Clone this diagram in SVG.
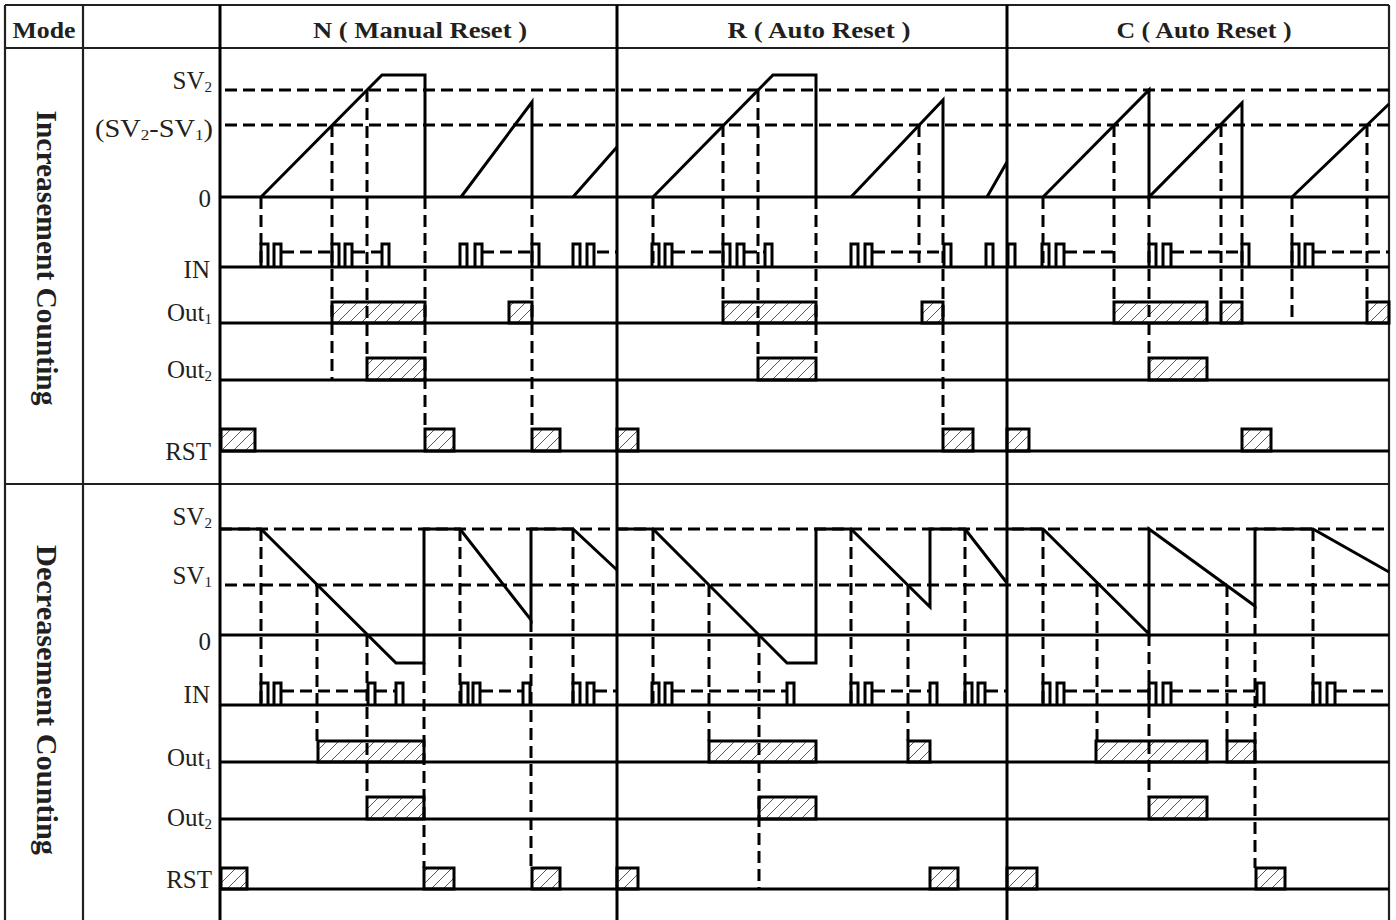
<svg xmlns="http://www.w3.org/2000/svg" width="1396" height="920" viewBox="0 0 1396 920">
<defs>
<pattern id="hatch" patternUnits="userSpaceOnUse" width="12" height="12">
<path d="M-3,3 L3,-3 M0,12 L12,0 M9,15 L15,9" stroke="#555" stroke-width="1"/>
</pattern>
<style>
.frame{stroke:#231f20;stroke-width:2.2;fill:none}
.col{stroke:#000;stroke-width:3;fill:none}
.line{stroke:#000;stroke-width:3;fill:none}
.sig{stroke:#000;stroke-width:3;fill:none}
.dash{stroke:#000;stroke-width:3;fill:none;stroke-dasharray:12 6}
.box{stroke:#000;stroke-width:3;fill:url(#hatch)}
.lbl{font-family:'Liberation Serif','Times New Roman',serif;font-size:25px;fill:#231f20;text-anchor:end}
.sub{font-size:15px}
.hdr{font-family:'Liberation Serif','Times New Roman',serif;font-size:24px;font-weight:bold;fill:#231f20;text-anchor:middle}
.vt{font-family:'Liberation Serif','Times New Roman',serif;font-size:30px;font-weight:bold;fill:#231f20;text-anchor:middle}
</style>
</defs>
<rect x="0" y="0" width="1396" height="920" fill="#fff"/>

<g id="frame">
<path class="frame" d="M5,5 H1389 M5,48 H1389 M5,484 H1389 M5,5 V920 M83,5 V920 M1389,5 V920"/>
<path class="col" d="M220,5 V920 M617,5 V920 M1007,5 V920"/>
</g>

<g id="header">
<text class="hdr" x="44" y="38" textLength="63" lengthAdjust="spacingAndGlyphs">Mode</text>
<text class="hdr" x="420" y="38" textLength="214" lengthAdjust="spacingAndGlyphs">N ( Manual Reset )</text>
<text class="hdr" x="819" y="38" textLength="183" lengthAdjust="spacingAndGlyphs">R ( Auto Reset )</text>
<text class="hdr" x="1204" y="38" textLength="175" lengthAdjust="spacingAndGlyphs">C ( Auto Reset )</text>
<text class="vt" transform="translate(37,258) rotate(90)" textLength="295" lengthAdjust="spacingAndGlyphs">Increasement Counting</text>
<text class="vt" transform="translate(37,700) rotate(90)" textLength="310" lengthAdjust="spacingAndGlyphs">Decreasement Counting</text>
</g>

<g id="labels">
<text class="lbl" x="212" y="89">SV<tspan class="sub" dy="3">2</tspan></text>
<text class="lbl" x="213" y="137" textLength="118" lengthAdjust="spacingAndGlyphs">(SV<tspan class="sub" dy="3">2</tspan><tspan dy="-3">-SV</tspan><tspan class="sub" dy="3">1</tspan><tspan dy="-3">)</tspan></text>
<text class="lbl" x="211" y="207">0</text>
<text class="lbl" x="210" y="278">IN</text>
<text class="lbl" x="212" y="321">Out<tspan class="sub" dy="3">1</tspan></text>
<text class="lbl" x="212" y="378">Out<tspan class="sub" dy="3">2</tspan></text>
<text class="lbl" x="211" y="460">RST</text>
<text class="lbl" x="212" y="525">SV<tspan class="sub" dy="3">2</tspan></text>
<text class="lbl" x="212" y="584">SV<tspan class="sub" dy="3">1</tspan></text>
<text class="lbl" x="211" y="650">0</text>
<text class="lbl" x="210" y="703">IN</text>
<text class="lbl" x="212" y="766">Out<tspan class="sub" dy="3">1</tspan></text>
<text class="lbl" x="212" y="826">Out<tspan class="sub" dy="3">2</tspan></text>
<text class="lbl" x="212" y="888">RST</text>
</g>

<g id="outputs">
<rect class="box" x="332" y="302" width="93" height="21"/>
<rect class="box" x="509" y="302" width="23" height="21"/>
<rect class="box" x="723" y="302" width="93" height="21"/>
<rect class="box" x="922" y="302" width="21" height="21"/>
<rect class="box" x="1114" y="302" width="93" height="21"/>
<rect class="box" x="1221" y="302" width="21" height="21"/>
<rect class="box" x="1367" y="302" width="22" height="21"/>
<rect class="box" x="367" y="358" width="58" height="22"/>
<rect class="box" x="758" y="358" width="58" height="22"/>
<rect class="box" x="1149" y="358" width="58" height="22"/>
<rect class="box" x="221" y="429" width="34" height="22"/>
<rect class="box" x="425" y="429" width="29" height="22"/>
<rect class="box" x="532" y="429" width="28" height="22"/>
<rect class="box" x="617" y="429" width="21" height="22"/>
<rect class="box" x="943" y="429" width="30" height="22"/>
<rect class="box" x="1007" y="429" width="22" height="22"/>
<rect class="box" x="1242" y="429" width="29" height="22"/>

<rect class="box" x="318" y="741" width="106" height="21"/>
<rect class="box" x="709" y="741" width="107" height="21"/>
<rect class="box" x="908" y="741" width="22" height="21"/>
<rect class="box" x="1096" y="741" width="111" height="21"/>
<rect class="box" x="1227" y="741" width="28" height="21"/>
<rect class="box" x="367" y="797" width="57" height="22"/>
<rect class="box" x="759" y="797" width="57" height="22"/>
<rect class="box" x="1149" y="797" width="58" height="22"/>
<rect class="box" x="221" y="868" width="26" height="21"/>
<rect class="box" x="424" y="868" width="30" height="21"/>
<rect class="box" x="532" y="868" width="28" height="21"/>
<rect class="box" x="617" y="868" width="21" height="21"/>
<rect class="box" x="930" y="868" width="28" height="21"/>
<rect class="box" x="1007" y="868" width="30" height="21"/>
<rect class="box" x="1256" y="868" width="29" height="21"/>
</g>

<g id="baselines">
<path class="line" d="M220,197 H1389 M220,267 H1389 M220,323 H1389 M220,380 H1389 M220,451 H1389"/>
<path class="line" d="M220,635 H1389 M220,705 H1389 M220,762 H1389 M220,819 H1389 M220,889 H1389"/>
<path class="dash" d="M225,90 H1389 M225,125 H1389"/>
<path class="dash" d="M220,529 H1389 M225,585 H1389"/>
</g>

<g id="connectors">
<path class="dash" d="M261,197 V267 M332,125 V380 M367,90 V358 M425,197 V429 M532,197 V429"/>
<path class="dash" d="M653,197 V267 M723,125 V302 M758,90 V358 M816,197 V358 M919,125 V267 M943,197 V429"/>
<path class="dash" d="M1043,197 V267 M1114,125 V302 M1149,197 V358 M1221,125 V302 M1242,197 V302 M1292,197 V323 M1367,125 V302"/>
<path class="dash" d="M261,529 V705 M317,585 V741 M367,635 V797 M424,663 V868 M460,529 V705 M531,620 V868 M573,529 V705"/>
<path class="dash" d="M653,529 V705 M709,585 V741 M759,635 V889 M851,529 V705 M908,585 V741 M965,529 V705"/>
<path class="dash" d="M1043,529 V705 M1097,585 V741 M1149,634 V797 M1227,585 V741 M1255,606 V868 M1313,529 V705"/>
<path class="dash" d="M282,252 H332 M353,252 H382 M482,252 H532 M597,252 H617 M673,252 H723 M745,252 H765 M873,252 H944 M1065,252 H1114 M1172,252 H1242 M1314,252 H1389"/>
<path class="dash" d="M282,691 H368 M375,691 H396 M481,691 H523 M595,691 H617 M673,691 H787 M873,691 H930 M986,691 H1007 M1065,691 H1149 M1171,691 H1257 M1335,691 H1389"/>
</g>

<g id="counter-increase">
<path class="sig" d="M261,197 L382,75 H425 V197 M461,197 L532,102 V197 M573,197 L617,147"/>
<path class="sig" d="M653,197 L773,75 H816 V197 M851,197 L943,100 V197 M987,197 L1007,162"/>
<path class="sig" d="M1043,197 L1149,90 V197 L1242,103 V197 M1292,197 L1389,104"/>
</g>

<g id="counter-decrease">
<path class="sig" d="M220,529 H261 L396,663 H424 V529 H460 L531,620 V529 H573 L617,570"/>
<path class="sig" d="M617,529 H653 L787,663 H816 V529 H851 L930,607 V529 H965 L1007,583"/>
<path class="sig" d="M1007,529 H1043 L1149,634 V529 L1255,606 V529 H1313 L1389,572"/>
</g>

<g id="in-increase">
<path class="sig" d="M261,267V244h7V267 M274,267V244h7V267 M332,267V244h7V267 M345,267V244h7V267 M382,267V244h7V267 M460,267V244h7V267 M475,267V244h7V267 M532,267V244h7V267 M573,267V244h7V267 M587,267V244h7V267"/>
<path class="sig" d="M652,267V244h7V267 M665,267V244h7V267 M723,267V244h7V267 M737,267V244h7V267 M765,267V244h7V267 M851,267V244h7V267 M865,267V244h7V267 M944,267V244h7V267 M986,267V244h7V267"/>
<path class="sig" d="M1008,267V244h7V267 M1042,267V244h7V267 M1056,267V244h8V267 M1149,267V244h7V267 M1163,267V244h8V267 M1242,267V244h7V267 M1292,267V244h7V267 M1305,267V244h8V267"/>
</g>

<g id="in-decrease">
<path class="sig" d="M261,705V683h7V705 M274,705V683h7V705 M368,705V683h7V705 M396,705V683h7V705 M461,705V683h7V705 M473,705V683h7V705 M523,705V683h7V705 M573,705V683h7V705 M587,705V683h7V705"/>
<path class="sig" d="M652,705V683h7V705 M665,705V683h7V705 M787,705V683h7V705 M851,705V683h7V705 M865,705V683h7V705 M930,705V683h7V705 M965,705V683h7V705 M978,705V683h7V705"/>
<path class="sig" d="M1043,705V683h7V705 M1057,705V683h7V705 M1149,705V683h7V705 M1163,705V683h8V705 M1257,705V683h7V705 M1313,705V683h7V705 M1327,705V683h8V705"/>
</g>
</svg>
